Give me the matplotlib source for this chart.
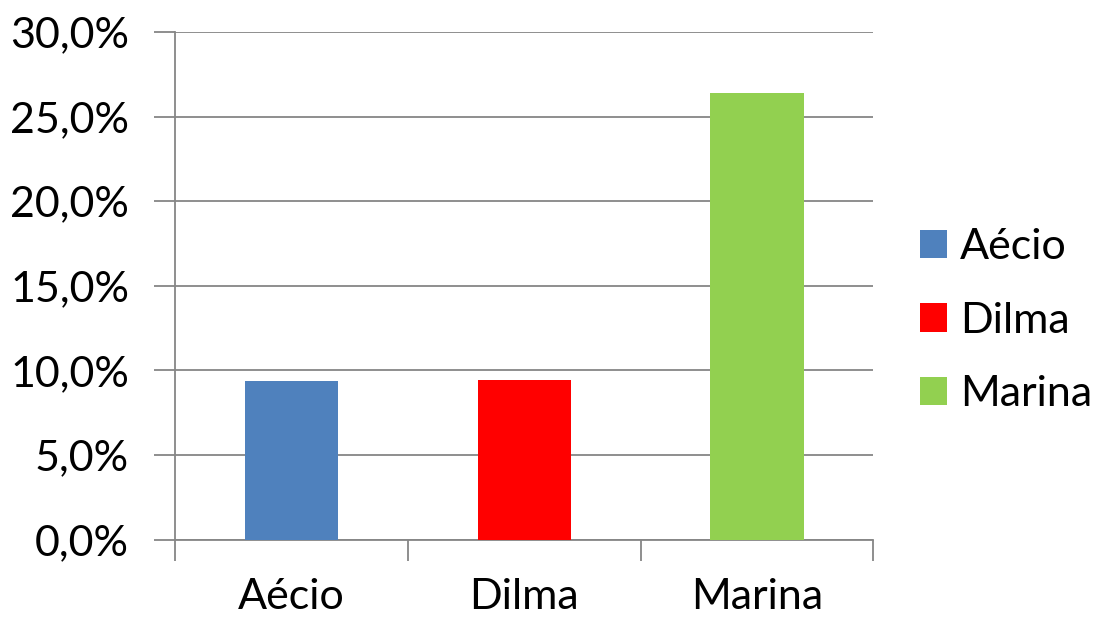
import matplotlib.pyplot as plt
from matplotlib.ticker import FuncFormatter, FixedLocator

candidatos = ["Aécio", "Dilma", "Marina"]
percentuais = [9.37, 9.43, 26.39]
cores = ["#4F81BD", "#FF0000", "#92D050"]
y_ticks = [0, 5, 10, 15, 20, 25, 30]

plt.rcParams['font.family'] = ['Lato', 'DejaVu Sans']
cinza = "#868686"
tam = 31

fig = plt.figure(figsize=(11, 6.19), dpi=100)
ax = fig.add_axes([0.159, 0.1284, 0.635, 0.8199])

x = range(len(candidatos))
for i, (nome, val, cor) in enumerate(zip(candidatos, percentuais, cores)):
    ax.bar(i, val, width=0.4, color=cor, label=nome, zorder=3)

ax.set_xlim(-0.5, len(candidatos) - 0.5)
ax.set_ylim(0, 30)

# y axis: gridlines and comma-decimal percent labels
ax.yaxis.set_major_locator(FixedLocator(y_ticks))
ax.yaxis.set_major_formatter(FuncFormatter(lambda v, p: f"{v:.1f}%".replace(".", ",")))
ax.grid(axis="y", color=cinza, linewidth=1.3, zorder=0)
ax.tick_params(axis="y", length=15, width=1.3, color=cinza, pad=18, labelsize=tam)

# x axis: labels centred under bars, ticks at category boundaries
ax.set_xticks(list(x))
ax.set_xticklabels(candidatos)
ax.set_xticks([-0.5, 0.5, 1.5, 2.5], minor=True)
ax.tick_params(axis="x", which="major", length=0, pad=28, labelsize=tam)
ax.tick_params(axis="x", which="minor", length=15, width=1.3, color=cinza)

for s in ["top", "right"]:
    ax.spines[s].set_visible(False)
for s in ["left", "bottom"]:
    ax.spines[s].set_color(cinza)
    ax.spines[s].set_linewidth(1.3)

fig.legend(loc="center left", bbox_to_anchor=(0.817, 0.482), frameon=False,
           fontsize=tam, handlelength=0.63, handleheight=0.63, handletextpad=0.3,
           labelspacing=0.82, borderpad=0)

fig.savefig("out.png", dpi=100)
